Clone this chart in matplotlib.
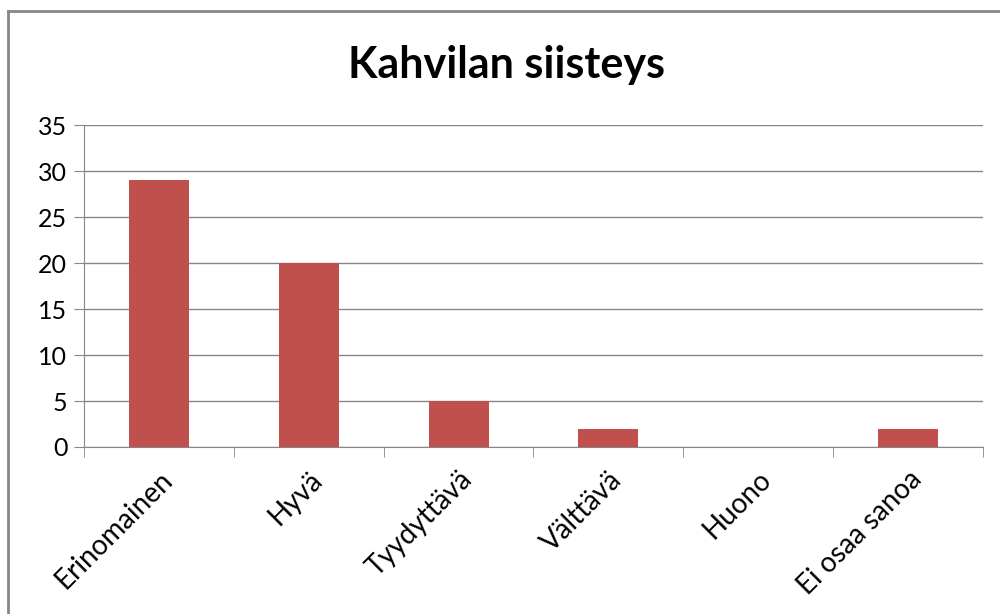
import matplotlib
matplotlib.use('Agg')
import matplotlib.pyplot as plt
from matplotlib.lines import Line2D
import numpy as np

plt.rcParams['font.family'] = ['Lato', 'DejaVu Sans']

# data
categories = ['Erinomainen', 'Hyvä', 'Tyydyttävä', 'Välttävä', 'Huono', 'Ei osaa sanoa']
values = [29, 20, 5, 2, 0, 2]
yticks = [0, 5, 10, 15, 20, 25, 30, 35]

grid_col = '#868686'
bar_col = '#C0504D'

fig = plt.figure(figsize=(10, 6.14), dpi=100)
ax = fig.add_axes([0.084, 0.272, 0.899, 0.524])

x = np.arange(len(categories))
ax.bar(x, values, width=0.4, color=bar_col, zorder=3)

ax.set_xlim(-0.5, len(categories) - 0.5)
ax.set_ylim(0, 35)
ax.set_yticks(yticks)
ax.yaxis.grid(True, color=grid_col, lw=1, zorder=0)

# kategoriat ja rajaviivat
ax.set_xticks(x)
ax.set_xticklabels(categories, rotation=45, ha='right', rotation_mode='anchor', fontsize=20)
ax.tick_params(axis='x', length=0, pad=14)
ax.set_xticks(np.arange(-0.5, len(categories)), minor=True)
ax.tick_params(axis='x', which='minor', length=7, color=grid_col, direction='out')
ax.tick_params(axis='y', length=7, color=grid_col, labelsize=18, pad=5)

for s in ['top', 'right']:
    ax.spines[s].set_visible(False)
for s in ['left', 'bottom']:
    ax.spines[s].set_color(grid_col)

# otsikko koko kaavion keskelle
fig.text(0.507, 0.894, 'Kahvilan siisteys', fontsize=31, fontweight='bold', ha='center', va='center')

# kaavion reunus
fig.add_artist(Line2D([0.008, 0.008], [0.982, 0.0], transform=fig.transFigure, color=grid_col, lw=2))
fig.add_artist(Line2D([0.008, 1.0], [0.982, 0.982], transform=fig.transFigure, color=grid_col, lw=2))

plt.savefig('out.png', dpi=100)
